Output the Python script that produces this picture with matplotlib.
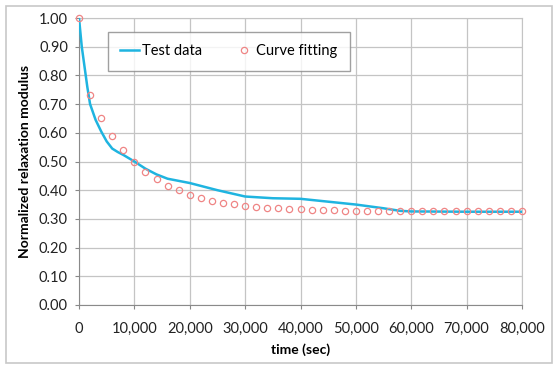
import numpy as np
import matplotlib.pyplot as plt
from matplotlib.patches import Rectangle

# test data
test_t = [0, 250, 500, 1000, 1500, 2000, 3000, 4000, 5000, 6000, 7000, 8000, 10000,
          12000, 14000, 16000, 20000, 25000, 30000, 35000, 40000, 45000, 50000,
          55000, 58000, 60000, 70000, 80000]
test_g = [1.00, 0.95, 0.90, 0.83, 0.76, 0.70, 0.645, 0.605, 0.57, 0.545, 0.533, 0.523, 0.50,
          0.475, 0.455, 0.44, 0.425, 0.40, 0.378, 0.372, 0.37, 0.36, 0.35,
          0.337, 0.328, 0.326, 0.325, 0.325]

# curve fitting points, every 2000 sec
fit_t = list(range(0, 80001, 2000))
fit_g = [1.00, 0.73, 0.65, 0.59, 0.54, 0.50, 0.465, 0.44, 0.415, 0.40,
         0.385, 0.372, 0.363, 0.357, 0.351, 0.346, 0.342, 0.339, 0.337, 0.335,
         0.333, 0.332, 0.331, 0.330, 0.329, 0.329, 0.328, 0.328, 0.327, 0.327,
         0.327, 0.327, 0.327, 0.327, 0.326, 0.326, 0.326, 0.326, 0.326, 0.326,
         0.326]

plt.rcParams['font.family'] = ['Lato', 'DejaVu Sans']

fig = plt.figure(figsize=(5.59, 3.68), dpi=100)
ax = fig.add_axes([79 / 559, 1 - 305 / 368, (522 - 79) / 559, (305 - 18) / 368])

fig.patches.append(Rectangle((6 / 559, 5 / 368), 546 / 559, 357 / 368,
                             transform=fig.transFigure, fill=False,
                             edgecolor='#c8c8c8', linewidth=1.2))

ax.plot(test_t, test_g, color='#1fb4e0', linewidth=1.8, label='Test data', zorder=3)
ax.plot(fit_t, fit_g, linestyle='none', marker='o', markersize=4.5,
        markerfacecolor='none', markeredgecolor='#ef8585', markeredgewidth=0.9,
        label='Curve fitting', zorder=4, clip_on=False)

ax.set_xlim(0, 80000)
ax.set_ylim(0, 1.0)
ax.set_xticks(range(0, 80001, 10000))
ax.set_xticklabels(['{:,}'.format(v) for v in range(0, 80001, 10000)])
ax.set_yticks(np.arange(0, 1.01, 0.1))
ax.set_yticklabels(['{:.2f}'.format(v) for v in np.arange(0, 1.01, 0.1)])
ax.tick_params(labelsize=10.5, length=3, color='#888888', labelcolor='#222222')
ax.tick_params(axis='x', pad=9)
ax.tick_params(axis='y', pad=5)
ax.grid(True, color='#c4c4c4', linewidth=0.9)
ax.set_axisbelow(True)
for s in ['top', 'right']:
    ax.spines[s].set_color('#c4c4c4')
for s in ['left', 'bottom']:
    ax.spines[s].set_color('#8a8a8a')

ax.set_xlabel('time (sec)', fontsize=10, fontweight='bold')
ax.set_ylabel('Normalized relaxation modulus', fontsize=10, fontweight='bold')
ax.xaxis.set_label_coords(0.5, -0.135)
ax.yaxis.set_label_coords(-0.108, 0.5)

leg = ax.legend(loc='upper left', bbox_to_anchor=(0.065, 0.951), ncol=2, fontsize=10.5,
                frameon=True, fancybox=False, borderpad=0.85, borderaxespad=0,
                columnspacing=2.2, handlelength=1.3, handletextpad=0.2)
leg.get_frame().set_edgecolor('#888888')
leg.get_frame().set_linewidth(1.0)

fig.savefig('out.png', dpi=100)
